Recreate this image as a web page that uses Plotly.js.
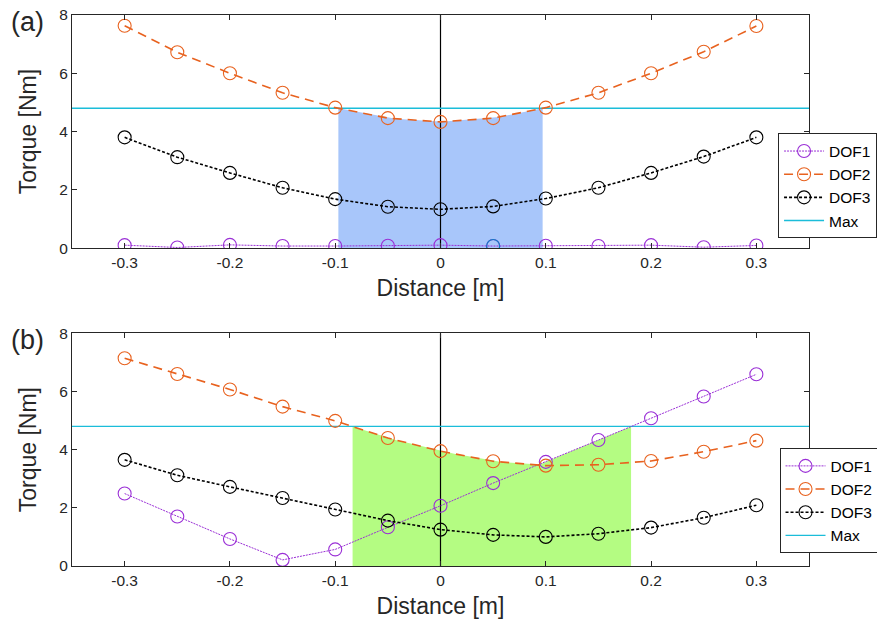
<!DOCTYPE html>
<html>
<head>
<meta charset="utf-8">
<script src="https://cdn.plot.ly/plotly-3.0.1.min.js"></script>
<style>html,body{margin:0;padding:0;background:#fff;}#chart{width:877px;height:624px;}</style>
</head>
<body>
<div id="chart"></div>
<script>
// ---- Data ----
const distance = [-0.3, -0.25, -0.2, -0.15, -0.1, -0.05, 0, 0.05, 0.1, 0.15, 0.2, 0.25, 0.3];
const xTickVals = [-0.3, -0.2, -0.1, 0, 0.1, 0.2, 0.3];
const xTickText = ["-0.3", "-0.2", "-0.1", "0", "0.1", "0.2", "0.3"];
const yTickVals = [0, 2, 4, 6, 8];

// panel (a)
const dof1A = [0.10, 0.02, 0.11, 0.07, 0.07, 0.08, 0.10, 0.07, 0.08, 0.07, 0.10, 0.03, 0.09];
const dof2A = [7.63, 6.72, 6.00, 5.33, 4.82, 4.46, 4.33, 4.46, 4.82, 5.33, 6.00, 6.74, 7.62];
const dof3A = [3.80, 3.12, 2.58, 2.07, 1.68, 1.42, 1.33, 1.43, 1.70, 2.07, 2.58, 3.14, 3.80];
const highlightX = [0.05];
const highlightY = [0.07];

// panel (b)
const dof1B = [2.49, 1.70, 0.93, 0.21, 0.57, 1.33, 2.07, 2.85, 3.58, 4.33, 5.08, 5.83, 6.59];
const dof2B = [7.14, 6.60, 6.07, 5.48, 4.99, 4.40, 3.95, 3.60, 3.45, 3.48, 3.61, 3.93, 4.31];
const dof3B = [3.65, 3.12, 2.72, 2.34, 1.94, 1.56, 1.25, 1.07, 1.00, 1.11, 1.32, 1.66, 2.09];

const maxTorque = 4.8;
const xRange = [-0.35, 0.35];
const yRange = [0, 8];

// ---- Styles ----
const FONT = "Arial, 'Liberation Sans', sans-serif";
const C_DOF1 = "#9a2fd6";
const C_DOF2 = "#e8621f";
const C_DOF3 = "#000000";
const C_MAX = "#1bbdd9";
const C_HL = "#0e7fc4";
const AXC = "#262626";

// feasible region: where the largest DOF torque stays under the max
function interp(xs, ys, x) {
  for (let i = 0; i < xs.length - 1; i++) {
    if (x >= xs[i] - 1e-12 && x <= xs[i + 1] + 1e-12) {
      const t = (x - xs[i]) / (xs[i + 1] - xs[i]);
      return ys[i] + t * (ys[i + 1] - ys[i]);
    }
  }
  return NaN;
}
function feasibleRegion(seriesList) {
  const step = 0.0005;
  const xs = [], ys = [];
  const n = Math.round((distance[distance.length - 1] - distance[0]) / step);
  let pts = [];
  for (let k = 0; k <= n; k++) {
    const x = distance[0] + k * step;
    const env = Math.max(...seriesList.map(s => interp(distance, s, x)));
    pts.push([x, env]);
  }
  const i0 = pts.findIndex(p => Math.abs(p[0]) < step / 2);
  let a = i0, b = i0;
  while (a > 0 && pts[a - 1][1] <= maxTorque) a--;
  while (b < pts.length - 1 && pts[b + 1][1] <= maxTorque) b++;
  for (let k = a; k <= b; k++) { xs.push(pts[k][0]); ys.push(pts[k][1]); }
  return {x: xs, y: ys};
}

const regA = feasibleRegion([dof1A, dof2A, dof3A]);
const regB = feasibleRegion([dof1B, dof2B, dof3B]);

function panelTraces(xa, ya, leg, reg, fillColor, d1, d2, d3) {
  return [
    {x: reg.x, y: reg.y, xaxis: xa, yaxis: ya, type: "scatter", mode: "lines",
     fill: "tozeroy", fillcolor: fillColor, line: {width: 0, color: fillColor},
     showlegend: false, hoverinfo: "skip"},
    {x: [0, 0], y: yRange, xaxis: xa, yaxis: ya, type: "scatter", mode: "lines",
     line: {color: "#000", width: 1.2}, showlegend: false, hoverinfo: "skip"},
    {x: xRange, y: [maxTorque, maxTorque], xaxis: xa, yaxis: ya, type: "scatter", mode: "lines",
     name: "Max", legend: leg, legendrank: 4, line: {color: C_MAX, width: 1.3}},
    {x: distance, y: d1, xaxis: xa, yaxis: ya, type: "scatter", mode: "lines+markers",
     name: "DOF1", legend: leg, legendrank: 1,
     line: {color: C_DOF1, width: 1, dash: "2px,1px"},
     marker: {symbol: "circle-open", size: 13, color: C_DOF1, line: {width: 1.1}}},
    {x: distance, y: d2, xaxis: xa, yaxis: ya, type: "scatter", mode: "lines+markers",
     name: "DOF2", legend: leg, legendrank: 2,
     line: {color: C_DOF2, width: 1.6, dash: "9px,6px"},
     marker: {symbol: "circle-open", size: 13, color: C_DOF2, line: {width: 1.1}}},
    {x: distance, y: d3, xaxis: xa, yaxis: ya, type: "scatter", mode: "lines+markers",
     name: "DOF3", legend: leg, legendrank: 3,
     line: {color: C_DOF3, width: 1.6, dash: "3px,2px"},
     marker: {symbol: "circle-open", size: 13, color: C_DOF3, line: {width: 1.1}}}
  ];
}

const data = [
  ...panelTraces("x", "y", "legend", regA, "rgb(168,198,250)", dof1A, dof2A, dof3A),
  {x: highlightX, y: highlightY, xaxis: "x", yaxis: "y", type: "scatter", mode: "markers",
   showlegend: false, hoverinfo: "skip",
   marker: {symbol: "circle-open", size: 13, color: C_HL, line: {width: 1.1}}},
  ...panelTraces("x2", "y2", "legend2", regB, "rgb(180,252,130)", dof1B, dof2B, dof3B)
];

function xAxis(anchor) {
  return {
    anchor: anchor, range: xRange, tickvals: xTickVals, ticktext: xTickText,
    ticks: "inside", ticklen: 5, tickcolor: AXC, tickwidth: 1,
    showline: true, linecolor: AXC, linewidth: 1, mirror: "ticks",
    showgrid: false, zeroline: false, automargin: false,
    tickfont: {family: FONT, size: 15.5, color: AXC},
    title: {text: "Distance [m]", font: {family: FONT, size: 23, color: AXC}, standoff: 10}
  };
}
function yAxis(anchor, domain) {
  return {
    anchor: anchor, domain: domain, range: yRange, tickvals: yTickVals,
    ticks: "inside", ticklen: 5, tickcolor: AXC, tickwidth: 1,
    showline: true, linecolor: AXC, linewidth: 1, mirror: "ticks",
    showgrid: false, zeroline: false, automargin: false,
    tickfont: {family: FONT, size: 15.5, color: AXC},
    title: {text: "Torque [Nm]", font: {family: FONT, size: 23, color: AXC}, standoff: 16}
  };
}
function legendCfg(x, y) {
  return {
    x: x, y: y, xanchor: "left", yanchor: "top", xref: "paper", yref: "paper",
    bgcolor: "#fff", bordercolor: AXC, borderwidth: 1,
    font: {family: FONT, size: 15.5, color: "#000"},
    itemwidth: 40, tracegroupgap: 0
  };
}

const layout = {
  width: 877, height: 624,
  margin: {l: 72, r: 68, t: 15, b: 58, autoexpand: false},
  paper_bgcolor: "#fff", plot_bgcolor: "#fff",
  showlegend: true,
  xaxis: xAxis("y"),
  yaxis: yAxis("x", [0.577, 1]),
  xaxis2: xAxis("y2"),
  yaxis2: yAxis("x2", [0, 0.4223]),
  legend: legendCfg(0.958, 0.785),
  legend2: legendCfg(0.960, 0.2136),
  annotations: [
    {text: "(a)", xref: "paper", yref: "paper", x: -0.061, y: 0.987, xanchor: "center", yanchor: "middle",
     showarrow: false, font: {family: FONT, size: 27, color: AXC}},
    {text: "(b)", xref: "paper", yref: "paper", x: -0.061, y: 0.410, xanchor: "center", yanchor: "middle",
     showarrow: false, font: {family: FONT, size: 27, color: AXC}}
  ]
};

Plotly.newPlot("chart", data, layout, {displayModeBar: false, responsive: false});
</script>
</body>
</html>
